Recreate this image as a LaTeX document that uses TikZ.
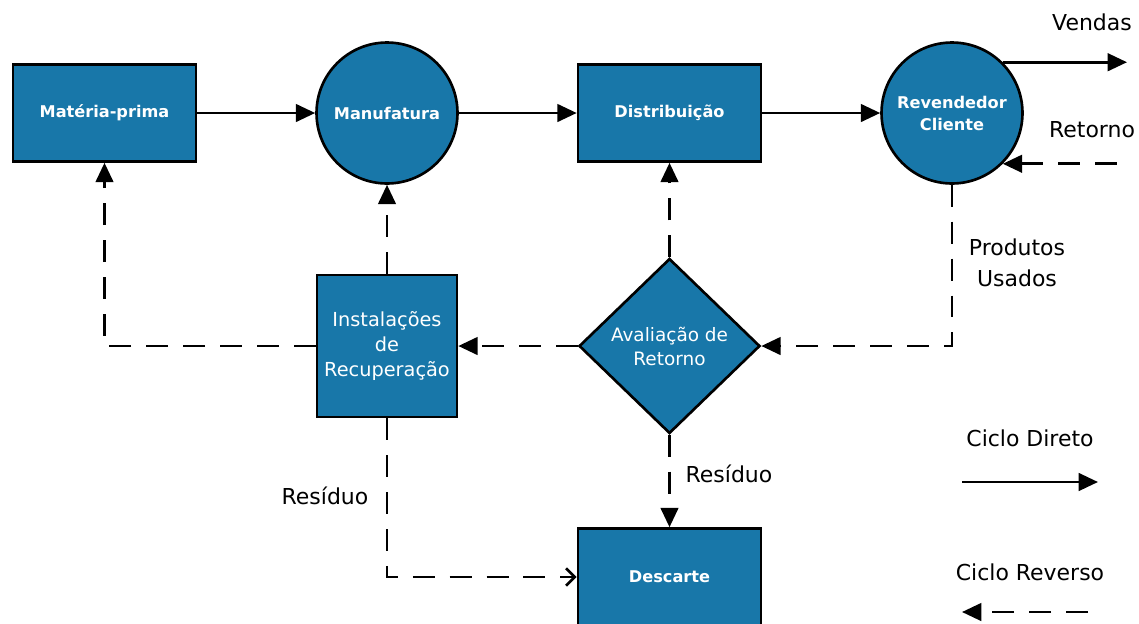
\documentclass[tikz,border=0pt]{standalone}
\usepackage{fontspec}
\setmainfont{DejaVu Sans}
\usepackage{tikz}
\usetikzlibrary{arrows.meta,shapes.geometric}
\definecolor{boxblue}{HTML}{1877A9}
\tikzset{
  line/.style={draw=black, line width=1.5pt, >={Triangle[length=11pt,width=10pt]}},
  dashedline/.style={line, dash pattern=on 12.5pt off 8.5pt},
  box/.style={rectangle, draw=black, fill=boxblue, line width=1.5pt, minimum width=3.66cm, minimum height=1.94cm, text=white, font=\fontsize{9.2}{12.5}\selectfont\bfseries, align=center},
  circ/.style={box, circle, minimum size=2.82cm, inner sep=0pt},
  tallbox/.style={box, minimum width=2.8cm, minimum height=2.84cm, font=\fontsize{11}{14}\selectfont},
  diam/.style={box, diamond, minimum width=3.62cm, minimum height=3.5cm, inner sep=0pt, font=\fontsize{10.5}{13.7}\selectfont},
  lbl/.style={text=black, font=\fontsize{12.5}{17.6}\selectfont, align=center}
}
\begin{document}
\begin{tikzpicture}[x=0.02cm, y=-0.02cm]
  \useasboundingbox (0,0) rectangle (1139,623);

  % forward chain
  \node[box]  (mp)   at (104.5,113) {Matéria-prima};
  \node[circ] (mf)   at (387,113)   {Manufatura};
  \node[box]  (dist) at (669.5,113) {Distribuição};
  \node[circ] (rc)   at (952,113)   {Revendedor\\Cliente};

  % reverse chain
  \node[tallbox] (inst) at (387,346)   {Instalações\\de\\Recuperação};
  \node[diam]    (aval) at (669.5,346) {Avaliação de\\Retorno};
  \node[box]     (desc) at (669.5,577) {Descarte};

  \coordinate (vend) at (1127,64);
  \coordinate (ret)  at (1127,163);

  \draw[line,->] (mp) -- (mf);
  \draw[line,->] (mf) -- (dist);
  \draw[line,->] (dist) -- (rc);
  \draw[line,->] (rc.45) -- (rc.45 -| vend);
  \draw[dashedline,<-] (rc.-45) -- (rc.-45 -| ret);

  \draw[dashedline,->] (rc.south) |- (aval.east);
  \draw[dashedline,->] (aval.north) -- (dist.south);
  \draw[dashedline,->] (aval.west) -- (inst.east);
  \draw[dashedline,->] (inst.north) -- (mf.south);
  \draw[dashedline,->] (inst.west) -| (mp.south);
  \draw[dashedline,->] (aval.south) -- (desc.north);
  \draw[dashedline,-{Straight Barb[length=5pt,width=10pt]}] (inst.south) |- (desc.west);

  \node[lbl] (vendas)  at (1092,22)  {Vendas};
  \node[lbl] (retorno) at (1092,130) {Retorno};
  \node[lbl] (usados)  at (1017,263) {Produtos\\Usados};
  \node[lbl] (resa)    at (729,474)  {Resíduo};
  \node[lbl] (resb)    at (325,496)  {Resíduo};

  % legend
  \node[lbl] (direto)  at (1030,438) {Ciclo Direto};
  \node[lbl] (reverso) at (1030,572) {Ciclo Reverso};
  \coordinate (d1) at (962,482);
  \coordinate (d2) at (1098,482);
  \coordinate (r1) at (1088,612);
  \coordinate (r2) at (962,612);
  \draw[line,->] (d1) -- (d2);
  \draw[dashedline,->] (r1) -- (r2);
\end{tikzpicture}
\end{document}
